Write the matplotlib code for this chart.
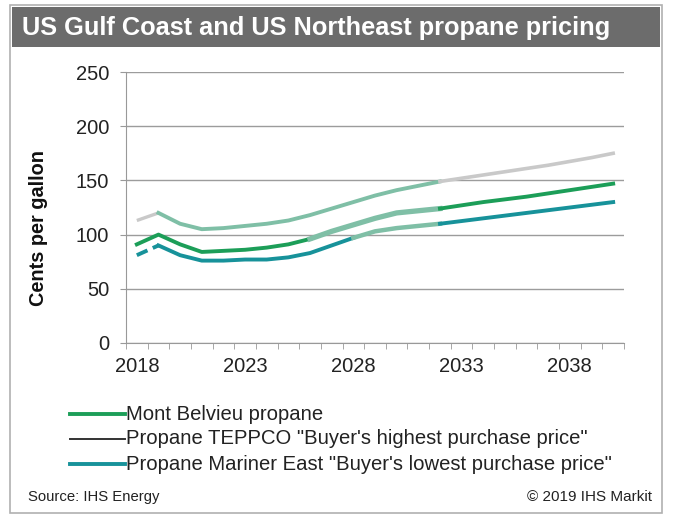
import matplotlib
matplotlib.use("Agg")
import matplotlib.pyplot as plt
from matplotlib.patches import Rectangle
import numpy as np

plt.rcParams['font.family'] = ['Liberation Sans', 'DejaVu Sans']

# data (cents per gallon)
years = list(range(2018, 2041))
mont_belvieu = [91, 100, 91, 84, 85, 86, 88, 91, 96, 103, 109, 115, 120, 122, 124,
                127, 130, 132.5, 135, 138, 141, 144, 147]
teppco = [113, 120, 110, 105, 106, 108, 110, 113, 118, 124, 130, 136, 141, 145, 149,
          152, 155, 158, 161, 164, 167.5, 171, 175]
mariner = [81, 90, 81, 76, 76, 77, 77, 79, 83, 90, 97, 103, 106, 108, 110,
           112.5, 115, 117.5, 120, 122.5, 125, 127.5, 130]
xtick_years = [2018, 2023, 2028, 2033, 2038]
yticks = [0, 50, 100, 150, 200, 250]

title = "US Gulf Coast and US Northeast propane pricing"
labels = ["Mont Belvieu propane",
          "Propane TEPPCO \"Buyer's highest purchase price\"",
          "Propane Mariner East \"Buyer's lowest purchase price\""]

green = "#1c9e58"
teal = "#17929a"
light_grey = "#c9c9c9"
seafoam = "#7fbfa6"

W, H = 673, 520
fig = plt.figure(figsize=(W / 100, H / 100), dpi=100, facecolor="white")

# outer frame and title bar
fig.patches.append(Rectangle((10 / W, 1 - 513 / H), 652 / W, 508 / H, transform=fig.transFigure,
                             facecolor="none", edgecolor="#b0b0b0", lw=1.2, zorder=-1))
fig.patches.append(Rectangle((12 / W, 1 - 47 / H), 648 / W, 40 / H, transform=fig.transFigure,
                             facecolor="#6c6c6c", edgecolor="none", zorder=-1))
fig.text(22 / W, 1 - 28 / H, title, color="white", fontsize=18.3, fontweight="bold",
         va="center", ha="left")

ax = fig.add_axes([126 / W, 1 - 343 / H, (624 - 126) / W, (343 - 72) / H])
ax.patch.set_alpha(0)
x = np.array(years)
yb = np.array(mont_belvieu)
yt = np.array(teppco)
ym = np.array(mariner)

# TEPPCO: grey ends, seafoam middle section
ax.plot(x[:2], yt[:2], color=light_grey, lw=2.4, solid_capstyle="butt", zorder=3)
ax.plot(x[1:15], yt[1:15], color=seafoam, lw=2.8, zorder=3)
ax.plot(x[14:], yt[14:], color=light_grey, lw=2.6, zorder=3)

# Mont Belvieu
ax.plot(x[:9], yb[:9], color=green, lw=2.8, zorder=4)
ax.plot(x[8:15], yb[8:15], color=seafoam, lw=3.8, zorder=4)
ax.plot(x[14:], yb[14:], color=green, lw=2.8, zorder=4)

# Mariner East
ax.plot(x[:2], ym[:2], color=teal, lw=2.8, dashes=(3, 1.5), zorder=4)
ax.plot(x[1:11], ym[1:11], color=teal, lw=2.8, zorder=4)
ax.plot(x[10:15], ym[10:15], color=seafoam, lw=3.2, zorder=4)
ax.plot(x[14:], ym[14:], color=teal, lw=2.8, zorder=4)

ax.set_xlim(2017.5, 2040.5)
ax.set_ylim(0, 250)
ax.set_yticks(yticks)
ax.set_yticklabels([str(v) for v in yticks], fontsize=14.5)
ax.set_xticks(xtick_years)
ax.set_xticklabels([str(v) for v in xtick_years], fontsize=14.5)
ax.set_xticks(np.arange(2017.5, 2041, 1), minor=True)
ax.tick_params(axis="x", which="major", length=0, pad=10, colors="#222222")
ax.tick_params(axis="x", which="minor", length=4, color="#999999", direction="out")
ax.tick_params(axis="y", length=4, color="#999999", pad=8, labelcolor="#222222")
ax.grid(axis="y", color="#9c9c9c", lw=1.0)
ax.set_axisbelow(True)
for side in ["top", "right"]:
    ax.spines[side].set_visible(False)
ax.spines["left"].set_color("#999999")
ax.spines["bottom"].set_color("#999999")
fig.text(39 / W, 1 - 228 / H, "Cents per gallon", fontsize=14.3, fontweight="bold",
         rotation=90, ha="center", va="center", color="#111111")

# legend drawn by hand to match layout
leg_colors = [green, "#333333", teal]
leg_lw = [2.8, 1.4, 2.8]
for i, (lab, c, lw) in enumerate(zip(labels, leg_colors, leg_lw)):
    yy = 1 - (414 + 25 * i) / H
    fig.add_artist(plt.Line2D([70 / W, 125 / W], [yy, yy], color=c, lw=lw))
    fig.text(126 / W, yy, lab, fontsize=14.6, va="center", ha="left", color="#222222")

fig.text(28 / W, 1 - 497 / H, "Source: IHS Energy", fontsize=10.7, va="center", ha="left",
         color="#222222")
fig.text(652 / W, 1 - 497 / H, "\u00a9 2019 IHS Markit", fontsize=11, va="center", ha="right",
         color="#222222")

fig.savefig("out.png", dpi=100)
